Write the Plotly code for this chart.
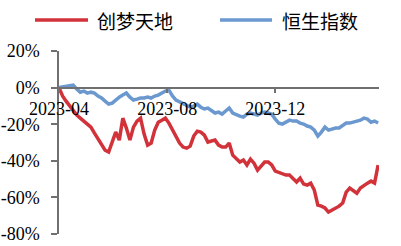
import pandas as pd
import plotly.graph_objects as go

# sampling dates (every 4 days, 2023-04-01 .. 2024-03-26)
dates = pd.date_range("2023-04-01", periods=91, freq="4D")

# cumulative return (%)
chuangmeng = [
    0.0, -4.6, -7.4, -10.1, -12.8, -15.0, -16.7, -18.3, -19.9, -21.6,
    -24.9, -28.1, -31.4, -34.2, -35.2, -29.8, -24.3, -28.7, -16.7, -22.1,
    -28.7, -21.6, -18.3, -16.7, -25.4, -31.4, -30.3, -23.2, -18.9, -17.8,
    -16.7, -19.4, -23.2, -27.5, -30.3, -32.5, -33.1, -32.0, -26.5, -23.8,
    -24.3, -26.0, -29.8, -29.2, -28.7, -31.4, -32.5, -32.5, -30.3, -36.9,
    -39.1, -40.7, -39.6, -42.3, -39.1, -41.3, -45.1, -42.9, -40.7, -40.7,
    -42.3, -45.6, -46.2, -47.3, -47.8, -47.8, -49.5, -51.6, -49.5, -52.7,
    -53.3, -52.2, -56.0, -64.2, -64.8, -65.8, -68.0, -66.9, -65.8, -64.8,
    -63.1, -57.1, -54.9, -56.6, -57.7, -54.9, -53.3, -52.2, -51.1, -52.2,
    -42.3,
]
hsi = [
    0.0, 0.3, 0.8, 0.8, 1.4, -0.8, -2.5, -1.9, -3.0, -2.5,
    -3.0, -4.6, -5.7, -7.4, -9.0, -8.5, -6.8, -5.2, -4.1, -3.0,
    -5.2, -6.8, -6.3, -5.7, -5.7, -5.2, -5.7, -4.6, -4.1, -3.0,
    -1.9, -1.4, -4.6, -6.8, -7.9, -9.0, -9.6, -10.7, -10.1, -9.0,
    -10.7, -11.7, -11.2, -12.3, -13.9, -13.4, -14.5, -12.8, -11.2, -13.9,
    -15.0, -15.6, -16.1, -14.5, -13.9, -14.5, -15.0, -13.9, -13.4, -13.9,
    -14.5, -17.2, -19.4, -19.9, -18.9, -17.8, -18.3, -18.3, -19.4, -19.9,
    -21.0, -21.6, -23.2, -26.5, -24.3, -21.6, -23.2, -22.7, -22.1, -22.1,
    -21.0, -19.4, -19.4, -18.9, -18.3, -17.8, -16.7, -17.2, -18.9, -18.3,
    -19.4,
]

series_names = ["创梦天地", "恒生指数"]
series_colors = ["#D2323A", "#6A98CF"]

y_tickvals = [20, 0, -20, -40, -60, -80]
y_ticktext = ["20%", "0%", "-20%", "-40%", "-60%", "-80%"]
x_tickvals = ["2023-04-01", "2023-08-01", "2023-12-01"]
x_ticktext = ["2023-04", "2023-08", "2023-12"]

fig = go.Figure()
for name, vals, col in zip(series_names, [chuangmeng, hsi], series_colors):
    fig.add_trace(go.Scatter(x=dates, y=vals, mode="lines", name=name,
                             line=dict(color=col, width=3.5)))

axis_col = "#707070"
tick_font = dict(family="Liberation Serif, Times New Roman, serif", size=18, color="#000000")

fig.update_layout(
    width=401, height=246,
    margin=dict(l=59, r=22, t=51, b=12),
    paper_bgcolor="white", plot_bgcolor="white",
    showlegend=False,
    xaxis=dict(
        type="date", range=["2023-04-01", "2024-03-27"],
        tickvals=x_tickvals, ticktext=x_ticktext,
        anchor="free", position=0.8, automargin=False,
        showline=True, linecolor=axis_col, linewidth=1.5,
        ticks="outside", ticklen=5, tickcolor=axis_col, tickwidth=1.5,
        showgrid=False, zeroline=False, tickfont=tick_font,
    ),
    yaxis=dict(
        range=[-80, 20], tickvals=y_tickvals, ticktext=y_ticktext,
        automargin=False,
        showline=True, linecolor=axis_col, linewidth=1.5,
        ticks="outside", ticklen=6, tickcolor=axis_col, tickwidth=1.5,
        showgrid=False, zeroline=False, tickfont=tick_font,
        ticklabelstandoff=8,
    ),
)

# legend drawn at the top
legend_font = dict(family="Noto Sans CJK SC", size=19, color="#000000")
legend_items = [(35, 88, 95), (220, 272, 280)]
for (x0, x1, tx), name, col in zip(legend_items, series_names, series_colors):
    fig.add_shape(type="line", xref="paper", yref="paper",
                  x0=(x0 - 59) / 320, x1=(x1 - 59) / 320,
                  y0=(234 - 20) / 183, y1=(234 - 20) / 183,
                  line=dict(color=col, width=3.5))
    fig.add_annotation(xref="paper", yref="paper", x=(tx - 59) / 320, y=(234 - 20) / 183,
                       text=name, showarrow=False, xanchor="left", yanchor="middle",
                       font=legend_font)

# remove the browser's default page margin so the figure fills the window
fig.write_html("out.html", config={"displayModeBar": False},
               post_script="document.body.style.margin='0';document.body.style.overflow='hidden';")
